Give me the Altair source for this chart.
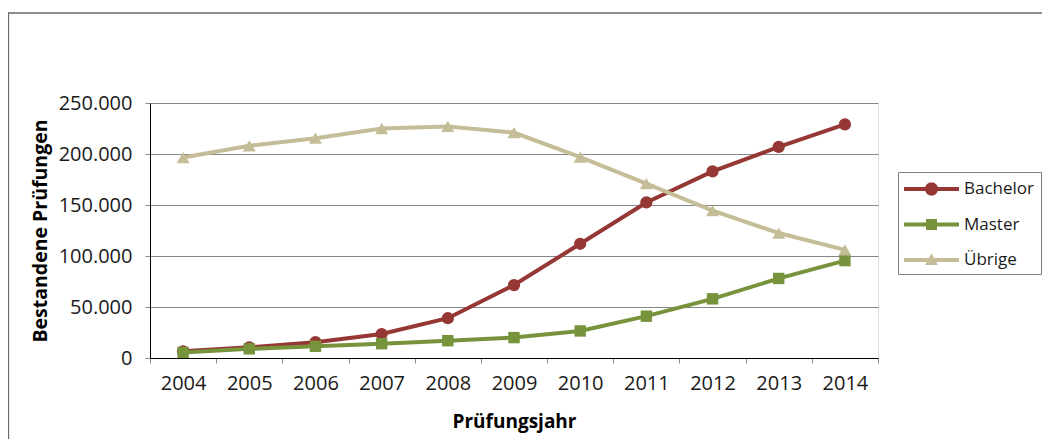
import math
import altair as alt
import pandas as pd

years = ["2004", "2005", "2006", "2007", "2008", "2009", "2010", "2011", "2012", "2013", "2014"]
bachelor = [6500, 10500, 15500, 23500, 39000, 71500, 112000, 152500, 183000, 207000, 229000]
master = [5500, 9000, 11500, 14000, 17000, 20000, 26500, 41000, 58000, 78000, 95500]
uebrige = [196500, 208000, 215500, 225000, 227000, 221000, 197000, 171000, 144500, 122500, 106000]

series_names = ["Bachelor", "Master", "Übrige"]
series_colors = ["#953735", "#77933C", "#C4BD97"]
series_shapes = ["circle", "square", "triangle-up"]
marker_sizes = [150, 130, 170]

rows = []
for name, vals in zip(series_names, [bachelor, master, uebrige]):
    for y, v in zip(years, vals):
        rows.append({"Jahr": y, "Wert": v, "Serie": name})
df = pd.DataFrame(rows)

FONT = "Open Sans"

# legend symbol paths (line + marker), units: 1 = 11 px
line_part = "M-1,-0.18L4,-0.18L4,0.18L-1,0.18Z"
circ_pts = []
for i in range(24):
    t = 2 * math.pi * i / 24
    circ_pts.append((1.5 + 0.6 * math.cos(t), 0.6 * math.sin(t)))
circle_part = "M" + "L".join(f"{x:.3f},{y:.3f}" for x, y in circ_pts) + "Z"
square_part = "M1,-0.5L2,-0.5L2,0.5L1,0.5Z"
tri_part = "M1.5,-0.62L2.08,0.45L0.92,0.45Z"
legend_paths = [line_part + circle_part, line_part + square_part, line_part + tri_part]

color_scale = alt.Scale(domain=series_names, range=series_colors)

legend = alt.Legend(
    title=None,
    orient="none",
    legendX=748,
    legendY=69,
    padding=6,
    strokeColor="#7f7f7f",
    fillColor="white",
    symbolSize=484,
    symbolStrokeWidth=0,
    symbolOpacity=1,
    labelOffset=38,
    rowPadding=16.5,
    labelFont=FONT,
    labelFontSize=17,
    labelColor="#1a1a1a",
)

x_enc = alt.X(
    "Jahr:O",
    sort=years,
    scale=alt.Scale(type="band", paddingInner=0, paddingOuter=0),
    axis=alt.Axis(
        title="Prüfungsjahr",
        labelAngle=0,
        tickBand="extent",
        tickSize=5,
        tickColor="#8a8a8a",
        domainColor="#000000",
        labelFont=FONT,
        labelFontSize=20,
        labelColor="#1a1a1a",
        labelPadding=10,
        titleFont=FONT,
        titleFontSize=19,
        titleFontWeight="bold",
        titleColor="#000000",
        titlePadding=19,
    ),
)
y_enc = alt.Y(
    "Wert:Q",
    scale=alt.Scale(domain=[0, 250000], nice=False),
    axis=alt.Axis(
        title="Bestandene Prüfungen",
        values=[0, 50000, 100000, 150000, 200000, 250000],
        labelExpr="replace(format(datum.value, ','), ',', '.')",
        tickSize=5,
        tickColor="#8a8a8a",
        domainColor="#000000",
        gridColor="#868686",
        gridWidth=1,
        labelFont=FONT,
        labelFontSize=20,
        labelColor="#1a1a1a",
        labelPadding=13,
        titleFont=FONT,
        titleFontSize=19.5,
        titleFontWeight="bold",
        titleColor="#000000",
        titlePadding=8,
    ),
)

base = alt.Chart(df)

frame = alt.Chart(pd.DataFrame({"f": [0]})).mark_rect(
    filled=False, stroke="#6a6a6a", strokeWidth=1.3, clip=False
).encode(
    x=alt.value(-141.5),
    x2=alt.value(1100),
    y=alt.value(-90),
    y2=alt.value(600),
)

legend_layer = base.transform_filter("false").mark_point(filled=True, opacity=1).encode(
    x=x_enc,
    y=y_enc,
    color=alt.Color("Serie:N", scale=color_scale, legend=legend),
    shape=alt.Shape(
        "Serie:N",
        scale=alt.Scale(domain=series_names, range=legend_paths),
        legend=legend,
    ),
)

layers = [frame, legend_layer]
for name, shp, sz in zip(series_names, series_shapes, marker_sizes):
    sub = base.transform_filter(alt.datum.Serie == name)
    layers.append(
        sub.mark_line(strokeWidth=4).encode(
            x=x_enc,
            y=y_enc,
            color=alt.Color("Serie:N", scale=color_scale, legend=legend),
        )
    )
    layers.append(
        sub.mark_point(filled=True, opacity=1, size=sz, shape=shp).encode(
            x=x_enc,
            y=y_enc,
            color=alt.Color("Serie:N", scale=color_scale, legend=legend),
        )
    )

chart = alt.layer(*layers).properties(
    width=728,
    height=255,
    autosize=alt.AutoSizeParams(type="none"),
    padding={"left": 142, "top": 95, "right": 164, "bottom": 81},
).configure_view(
    stroke="#c4c4c4", strokeWidth=1.5
).configure(
    font=FONT, background="white"
)

chart.save("out.html", embed_options={"renderer": "svg", "actions": False})
